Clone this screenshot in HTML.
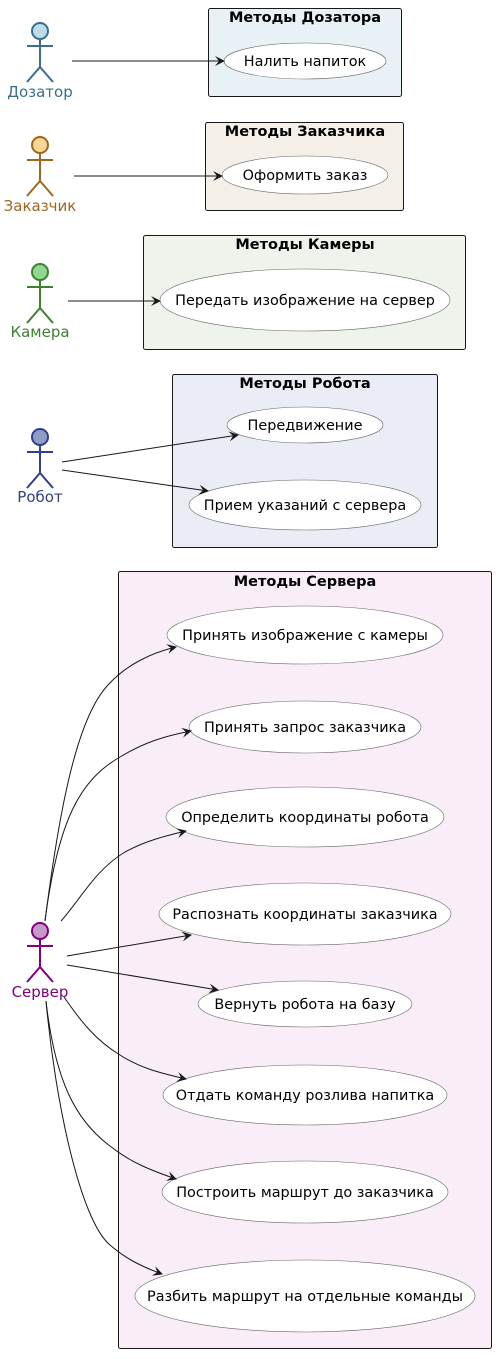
<!DOCTYPE html>
<html><head><meta charset="utf-8"><style>
body{margin:0;background:#fff}
svg text{font-family:"DejaVu Sans","Liberation Sans",sans-serif}
</style></head><body>
<svg width="496" height="1354" viewBox="0 0 496 1354" xmlns="http://www.w3.org/2000/svg">
<defs>
<marker id="a" viewBox="0 0 10 10" refX="9" refY="5" markerWidth="10" markerHeight="10" orient="auto" markerUnits="userSpaceOnUse">
<path d="M0,0 L10,5 L0,10 L4,5 Z" fill="#181818"/></marker>
<g id="act"><circle cx="0" cy="0" r="8"/><path d="M0,8 V36 M-13,15 H13 M-13,51 L0,36 L13,51" fill="none"/></g>
</defs>
<g stroke="#181818" stroke-width="1">
<rect x="208.5" y="8.5" width="193" height="88" rx="2" fill="#e8f1f5"/>
<rect x="205.5" y="122.5" width="198" height="88" rx="2" fill="#f4f0e8"/>
<rect x="143.5" y="235.5" width="322" height="114" rx="2" fill="#eef3ec"/>
<rect x="172.5" y="374.5" width="265" height="173" rx="2" fill="#eaedf6"/>
<rect x="118.5" y="571.5" width="373" height="777" rx="2" fill="#f9eef8"/>
</g>
<g font-size="14.5" font-weight="bold" text-anchor="middle" fill="#000">
<text x="305" y="22">Методы Дозатора</text>
<text x="305" y="136">Методы Заказчика</text>
<text x="305" y="249">Методы Камеры</text>
<text x="305" y="388">Методы Робота</text>
<text x="305" y="586">Методы Сервера</text>
</g>
<g fill="#fff" stroke="#666" stroke-width="0.6">
<ellipse cx="305" cy="61" rx="81" ry="18"/>
<ellipse cx="305" cy="175" rx="83" ry="19"/>
<ellipse cx="305" cy="300" rx="145" ry="31"/>
<ellipse cx="305" cy="425" rx="78" ry="18"/>
<ellipse cx="305" cy="505" rx="116" ry="25"/>
<ellipse cx="305" cy="635" rx="138" ry="29"/>
<ellipse cx="305" cy="727" rx="116" ry="26"/>
<ellipse cx="305" cy="817" rx="139" ry="30"/>
<ellipse cx="305" cy="914" rx="146" ry="31"/>
<ellipse cx="305" cy="1004" rx="107" ry="23"/>
<ellipse cx="305" cy="1095" rx="142" ry="30"/>
<ellipse cx="305" cy="1192" rx="143" ry="31"/>
<ellipse cx="305" cy="1296" rx="170" ry="36"/>
</g>
<g font-size="14.4" text-anchor="middle" fill="#000">
<text x="305" y="66">Налить напиток</text>
<text x="305" y="180">Оформить заказ</text>
<text x="305" y="305">Передать изображение на сервер</text>
<text x="305" y="430">Передвижение</text>
<text x="305" y="510">Прием указаний с сервера</text>
<text x="305" y="640">Принять изображение с камеры</text>
<text x="305" y="732">Принять запрос заказчика</text>
<text x="305" y="822">Определить координаты робота</text>
<text x="305" y="919">Распознать координаты заказчика</text>
<text x="305" y="1009">Вернуть робота на базу</text>
<text x="305" y="1100">Отдать команду розлива напитка</text>
<text x="305" y="1197">Построить маршрут до заказчика</text>
<text x="305" y="1301">Разбить маршрут на отдельные команды</text>
</g>
<g stroke-width="2">
<use href="#act" x="40" y="31" stroke="#3a6e8c" fill="#bcdcec"/>
<use href="#act" x="40" y="145" stroke="#a0661e" fill="#fad593"/>
<use href="#act" x="40" y="272" stroke="#3f8030" fill="#90d890"/>
<use href="#act" x="40" y="437" stroke="#2f3f8a" fill="#8f9cc6"/>
<use href="#act" x="40" y="931" stroke="#800080" fill="#c899c8"/>
</g>
<g font-size="15" text-anchor="middle">
<text x="40" y="97" fill="#3a6e8c">Дозатор</text>
<text x="40" y="211" fill="#a0661e">Заказчик</text>
<text x="40" y="337" fill="#3f8030">Камера</text>
<text x="40" y="502" fill="#2f3f8a">Робот</text>
<text x="40" y="997" fill="#800080">Сервер</text>
</g>
<g stroke="#181818" stroke-width="1" fill="none" marker-end="url(#a)">
<path d="M72,61 H224"/>
<path d="M74,176 H222"/>
<path d="M68,301 H160"/>
<path d="M62,462 L238,435"/>
<path d="M62,470 L208,491"/>
<path d="M45,921 C58,820 75,720 108,685 C125,666 150,653 176,647"/>
<path d="M45,921 C58,820 80,780 120,757 C145,742 165,736 191,731"/>
<path d="M61,921 C80,900 95,870 125,852 C145,841 165,836 186,831"/>
<path d="M67,956 L191,935"/>
<path d="M67,965 L218,990"/>
<path d="M64,997 C80,1020 95,1040 120,1055 C140,1068 160,1073 186,1079"/>
<path d="M46,1001 C55,1080 75,1120 110,1146 C130,1162 150,1170 176,1179"/>
<path d="M46,1001 C55,1100 80,1220 110,1245 C125,1258 140,1266 162,1274"/>
</g>
</svg>
</body></html>
